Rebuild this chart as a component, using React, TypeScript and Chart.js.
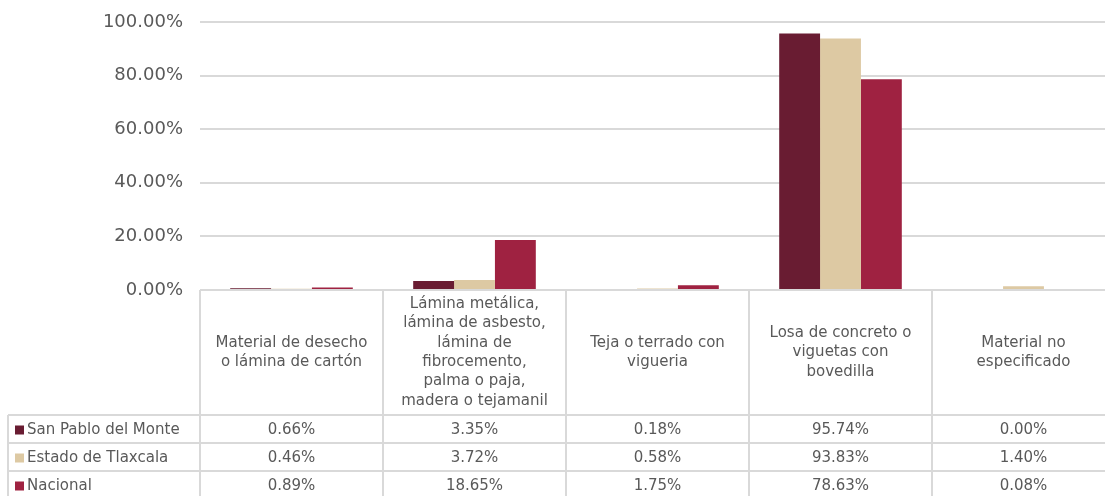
import React, { useEffect, useRef } from "react";
import { Chart, registerables } from "chart.js";

Chart.register(...registerables);

const categories: string[][] = [
  ["Material de desecho", "o lámina de cartón"],
  ["Lámina metálica,", "lámina de asbesto,", "lámina de", "fibrocemento,", "palma o paja,", "madera o tejamanil"],
  ["Teja o terrado con", "vigueria"],
  ["Losa de concreto o", "viguetas con", "bovedilla"],
  ["Material no", "especificado"],
];
const seriesNames = ["San Pablo del Monte", "Estado de Tlaxcala", "Nacional"];
const sanPablo = [0.66, 3.35, 0.18, 95.74, 0.0];
const tlaxcala = [0.46, 3.72, 0.58, 93.83, 1.4];
const nacional = [0.89, 18.65, 1.75, 78.63, 0.08];
const seriesColors = ["#691C32", "#DDC9A3", "#9F2241"];
const yTicks = [0, 20, 40, 60, 80, 100];

const FONT = "'DejaVu Sans', sans-serif";
const TEXT = "#595959";
const LINE = "#D9D9D9";

const tablePlugin = {
  id: "dataTable",
  afterDraw(chart: any) {
    const ctx = chart.ctx as CanvasRenderingContext2D;
    const area = chart.chartArea;
    const xs = chart.scales.x;
    const n = categories.length;
    const cw = (area.right - area.left) / n;
    const headerTop = area.bottom;
    const headerBottom = 415;
    const rowH = 28;
    const legendLeft = 8;
    const rows = [sanPablo, tlaxcala, nacional];
    const bottom = headerBottom + rowH * rows.length;
    ctx.save();
    ctx.strokeStyle = LINE;
    ctx.lineWidth = 2;
    for (let i = 0; i <= n; i++) {
      const x = Math.round(area.left + cw * i);
      ctx.beginPath();
      ctx.moveTo(x, headerTop);
      ctx.lineTo(x, bottom);
      ctx.stroke();
    }
    ctx.beginPath();
    ctx.moveTo(legendLeft, headerBottom);
    ctx.lineTo(legendLeft, bottom);
    ctx.stroke();
    for (let r = 0; r <= rows.length; r++) {
      const y = headerBottom + rowH * r;
      ctx.beginPath();
      ctx.moveTo(legendLeft, y);
      ctx.lineTo(area.right, y);
      ctx.stroke();
    }
    ctx.beginPath();
    ctx.moveTo(area.left, headerTop);
    ctx.lineTo(area.right, headerTop);
    ctx.stroke();

    ctx.fillStyle = TEXT;
    ctx.font = `15px ${FONT}`;
    ctx.textAlign = "center";
    ctx.textBaseline = "middle";
    const lh = 19.3;
    const midH = (headerTop + headerBottom) / 2;
    categories.forEach((lines, i) => {
      const cx = xs.getPixelForValue(i);
      const start = midH - ((lines.length - 1) * lh) / 2;
      lines.forEach((l, j) => ctx.fillText(l, cx, start + j * lh));
    });
    rows.forEach((vals, r) => {
      const cy = headerBottom + rowH * r + rowH / 2 + 1;
      vals.forEach((v, i) => {
        ctx.fillText(v.toFixed(2) + "%", xs.getPixelForValue(i), cy);
      });
      ctx.fillStyle = seriesColors[r];
      ctx.fillRect(15, cy - 4.5, 9, 9);
      ctx.fillStyle = TEXT;
      ctx.textAlign = "left";
      ctx.fillText(seriesNames[r], 27, cy);
      ctx.textAlign = "center";
    });
    ctx.restore();
  },
};

export default function App() {
  const ref = useRef<HTMLCanvasElement>(null);
  useEffect(() => {
    if (!ref.current) return;
    const chart = new Chart(ref.current, {
      type: "bar",
      data: {
        labels: categories.map((c) => c.join(" ")),
        datasets: [
          { label: seriesNames[0], data: sanPablo, backgroundColor: seriesColors[0] },
          { label: seriesNames[1], data: tlaxcala, backgroundColor: seriesColors[1] },
          { label: seriesNames[2], data: nacional, backgroundColor: seriesColors[2] },
        ],
      },
      options: {
        responsive: false,
        animation: false,
        devicePixelRatio: 1,
        layout: { padding: { top: 22, bottom: 206, left: 0, right: 0 } },
        datasets: { bar: { categoryPercentage: 0.67, barPercentage: 1 } },
        plugins: { legend: { display: false }, tooltip: { enabled: false } },
        scales: {
          x: { display: false, offset: true, grid: { display: false } },
          y: {
            min: 0,
            max: 100,
            afterFit: (axis: any) => {
              axis.width = 200;
              axis.paddingTop = 0;
              axis.paddingBottom = 0;
            },
            afterBuildTicks: (axis: any) => { axis.ticks = yTicks.map((v) => ({ value: v })); },
            border: { display: false },
            grid: { color: LINE, lineWidth: 2, drawTicks: false },
            ticks: {
              color: TEXT,
              padding: 17,
              font: { family: FONT, size: 18 },
              callback: (v: any) => Number(v).toFixed(2) + "%",
            },
          },
        },
      },
      plugins: [tablePlugin],
    });
    return () => chart.destroy();
  }, []);
  return (
    <div style={{ position: "fixed", left: 0, top: 0, width: 1105, height: 496, overflow: "hidden", background: "#fff" }}>
      <canvas ref={ref} width={1115} height={496} style={{ display: "block" }} />
    </div>
  );
}
